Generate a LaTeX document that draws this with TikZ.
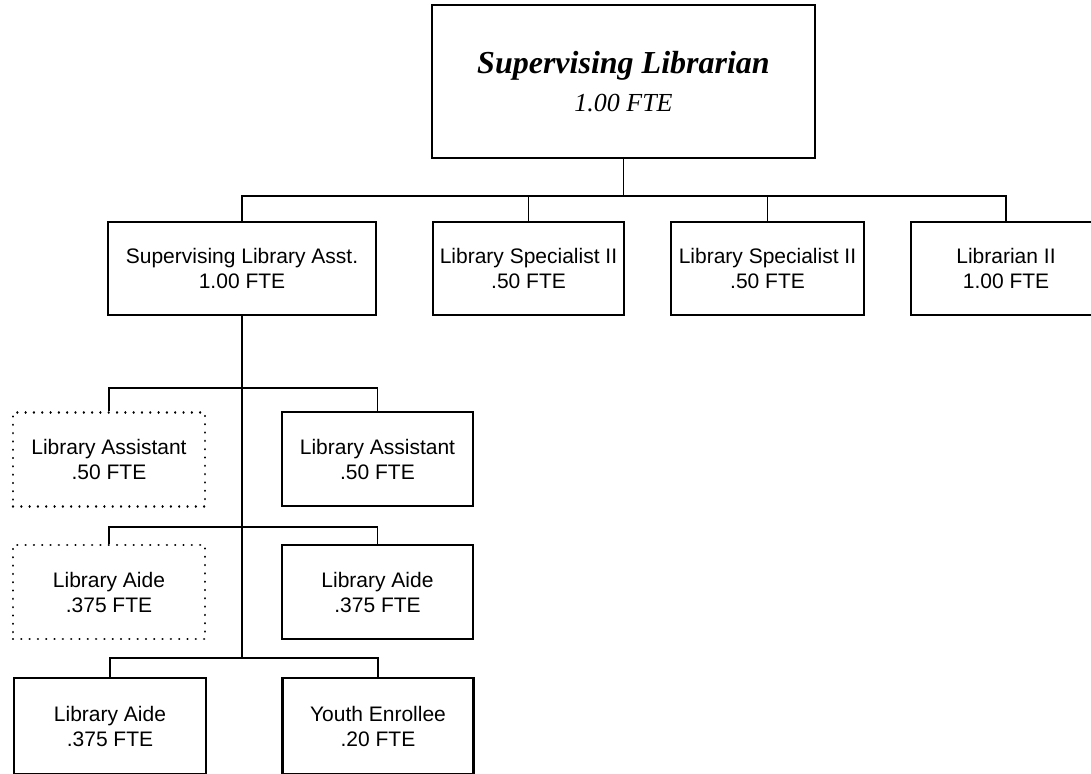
\documentclass[tikz,border=0pt]{standalone}
\usepackage{fontspec}
\setmainfont{Liberation Sans}
\newfontfamily\titleserif{Liberation Serif}
\begin{document}
\begin{tikzpicture}[x=1pt,y=-1pt,
  box/.style={draw=black, line width=2.2pt, fill=white, inner sep=0pt, align=center,
    minimum height=93pt, font=\fontsize{21}{25}\selectfont},
  dotbox/.style={box, line width=2.4pt, line cap=round, dash pattern=on 0.01pt off 8.3pt},
  link/.style={draw=black, line width=1.5pt}]
\useasboundingbox (0,0) rectangle (1091,773);
% top
\node[box, minimum width=383pt, minimum height=153pt] (top) at (623.5,81.5)
  {\titleserif\fontsize{32}{38}\selectfont\bfseries\itshape Supervising Librarian\\[13pt]
   \titleserif\fontsize{26}{38}\selectfont\mdseries\itshape 1.00 FTE};
% second row
\node[box, minimum width=268pt] (b1) at (242,268.5) {Supervising Library Asst.\\1.00 FTE};
\node[box, minimum width=191pt] (b2) at (528.5,268.5) {Library Specialist II\\.50 FTE};
\node[box, minimum width=193pt] (b3) at (767.5,268.5) {Library Specialist II\\.50 FTE};
\node[box, minimum width=190pt] (b4) at (1006,268.5) {Librarian II\\1.00 FTE};
% row 3
\node[dotbox, minimum width=192pt, minimum height=94pt] (r3a) at (109,459.5) {Library Assistant\\.50 FTE};
\node[box, minimum width=191pt, minimum height=94pt] (r3b) at (377.5,459) {Library Assistant\\.50 FTE};
% row 4
\node[dotbox, minimum width=192pt, minimum height=94pt] (r4a) at (109,592) {Library Aide\\.375 FTE};
\node[box, minimum width=191pt, minimum height=94pt] (r4b) at (377.5,592) {Library Aide\\.375 FTE};
% row 5
\node[box, minimum width=192pt, minimum height=96pt] (r5a) at (110,726) {Library Aide\\.375 FTE};
\node[box, minimum width=191pt, minimum height=96pt] (r5b) at (378,726) {Youth Enrollee\\.20 FTE};
% junctions
\coordinate (j0) at (623.5,196);
\coordinate (j3) at (243,388);
\coordinate (j4) at (243,527);
\coordinate (j5) at (243,658);
% connectors
\draw[link] (top.south) -- (j0);
\draw[link] (b1.north) |- (j0) -| (b4.north);
\draw[link] (b2.north) -- (b2.north |- j0);
\draw[link] (b3.north) -- (b3.north |- j0);
\draw[link] (b1.south) -- (b1.south |- j5);
\draw[link] (r3a.north) |- (j3) -| (r3b.north);
\draw[link] (r4a.north) |- (j4) -| (r4b.north);
\draw[link] (r5a.north) |- (j5) -| (r5b.north);
\end{tikzpicture}
\end{document}
